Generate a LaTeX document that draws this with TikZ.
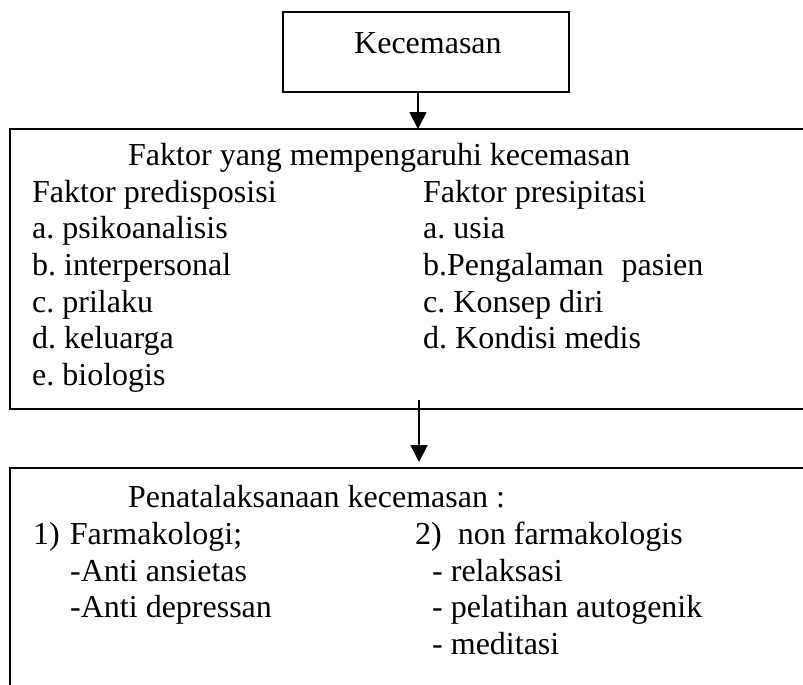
\documentclass[tikz,border=0pt]{standalone}
\usepackage{fontspec}
\setmainfont{Liberation Serif}
\usetikzlibrary{arrows.meta}
\frenchspacing

\begin{document}
\begin{tikzpicture}[x=1pt, y=-1pt,
    box/.style = {draw, line width=1.6pt, rectangle, inner sep=0pt, outer sep=0pt, anchor=north west},
    txt/.style = {inner sep=0pt, anchor=base west, font=\fontsize{32}{37}\selectfont},
    arr/.style = {line width=1.8pt, -{Triangle[length=17pt, width=17pt]}}]
    \useasboundingbox (0,0) rectangle (803,685);
    \clip (0,0) rectangle (803,685);

    % boxes
    \node[box, minimum width=286pt, minimum height=80pt] (kecemasan) at (283,12) {};
    \node[box, minimum width=830pt, minimum height=280pt] (faktor) at (10,129) {};
    \node[box, minimum width=830pt, minimum height=260pt] (penata) at (10,468) {};

    % top box
    \node[txt] (judul) at (354,54) {Kecemasan};

    % factors
    \node[txt] (faktorjudul) at (128,165) {Faktor yang mempengaruhi kecemasan};
    \node[txt] (pre) at (32,202) {Faktor predisposisi};
    \node[txt] (prea) at (32,238) {a. psikoanalisis};
    \node[txt] (preb) at (32,275) {b. interpersonal};
    \node[txt] (prec) at (32,312) {c. prilaku};
    \node[txt] (pred) at (32,348) {d. keluarga};
    \node[txt] (pree) at (32,385) {e. biologis};
    \node[txt] (pres) at (423,202) {Faktor presipitasi};
    \node[txt] (presa) at (423,238) {a. usia};
    \node[txt] (presb) at (423,275) {b.Pengalaman\hspace{18pt}pasien};
    \node[txt] (presc) at (423,312) {c. Konsep diri};
    \node[txt] (presd) at (423,348) {d. Kondisi medis};

    % penatalaksanaan
    \node[txt] (penatajudul) at (128,507) {Penatalaksanaan kecemasan :};
    \node[txt] (farma) at (33,544) {1)\hspace{10pt}Farmakologi;};
    \node[txt] (farmaa) at (70,581) {-Anti ansietas};
    \node[txt] (farmab) at (70,617) {-Anti depressan};
    \node[txt] (nonfarma) at (415,544) {2)\hspace{16pt}non farmakologis};
    \node[txt] (nonfarmaa) at (432,581) {- relaksasi};
    \node[txt] (nonfarmab) at (432,617) {- pelatihan autogenik};
    \node[txt] (nonfarmac) at (432,654) {- meditasi};

    % arrows
    \draw[arr] ([xshift=-8pt]kecemasan.south) -- ([xshift=-8pt]kecemasan.south |- faktor.north);
    \coordinate (panah) at (419,400);
    \draw[arr, shorten >=6pt] (panah) -- (panah |- penata.north);

\end{tikzpicture}
\end{document}
